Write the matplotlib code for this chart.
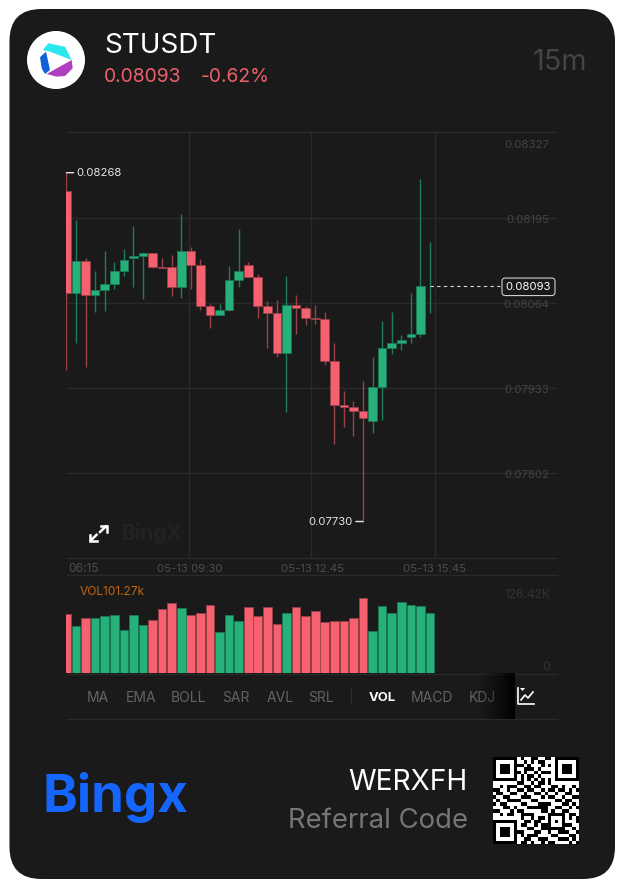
import numpy as np
import matplotlib
matplotlib.use("Agg")
import matplotlib.pyplot as plt
from matplotlib.patches import FancyBboxPatch, Circle, Polygon

plt.rcParams['font.family'] = ['Inter', 'DejaVu Sans']

opens  = [0.08240,0.08082,0.08132,0.08080,0.08087,0.08096,0.08116,0.08136,0.08139,0.08144,
          0.08123,0.08122,0.08092,0.08148,0.08126,0.08062,0.08049,0.08056,0.08102,0.08125,
          0.08107,0.08063,0.08051,0.07990,0.08064,0.08060,0.08044,0.08042,0.07977,0.07910,
          0.07906,0.07900,0.07885,0.07937,0.07998,0.08005,0.08014,0.08019,0.08093]
closes = [0.08082,0.08132,0.08080,0.08087,0.08096,0.08116,0.08134,0.08139,0.08144,0.08123,
          0.08121,0.08092,0.08148,0.08126,0.08062,0.08049,0.08056,0.08102,0.08117,0.08107,
          0.08063,0.08051,0.07990,0.08064,0.08060,0.08044,0.08042,0.07977,0.07910,0.07906,
          0.07900,0.07889,0.07937,0.07998,0.08005,0.08010,0.08019,0.08093,0.08093]
highs  = [0.08268,0.08195,0.08136,0.08117,0.08147,0.08130,0.08150,0.08186,0.08146,0.08144,
          0.08137,0.08141,0.08205,0.08154,0.08135,0.08065,0.08065,0.08124,0.08181,0.08130,
          0.08112,0.08070,0.08072,0.08108,0.08079,0.08063,0.08064,0.08053,0.08006,0.07931,
          0.07916,0.07947,0.07983,0.08039,0.08053,0.08018,0.08082,0.08259,0.08161]
lows   = [0.07964,0.08006,0.07969,0.08053,0.08054,0.08089,0.08109,0.08092,0.08073,0.08121,
          0.08121,0.08078,0.08074,0.08089,0.08056,0.08028,0.08049,0.08055,0.08092,0.08107,
          0.08044,0.07998,0.07984,0.07899,0.08019,0.08033,0.08035,0.07972,0.07850,0.07875,
          0.07862,0.07730,0.07866,0.07887,0.07988,0.07994,0.08006,0.08014,0.08052]
volumes = [100.0,79.8,93.8,93.3,96.1,97.8,73.0,97.8,82.0,90.5,107.9,118.0,110.1,97.8,101.7,
           114.6,69.1,97.8,88.8,111.3,96.6,111.3,83.2,101.1,111.3,96.6,104.5,86.0,88.8,88.2,
           93.8,126.42,71.9,114.1,101.1,120.8,115.2,114.1,101.27]

price_labels = ['0.08327','0.08195','0.08064','0.07933','0.07802']
grid_levels  = [0.083308,0.081986,0.080675,0.079359,0.078048,0.076737]
time_labels  = ['06:15','05-13 09:30','05-13 12:45','05-13 15:45']
time_grid    = [12.77,25.6,38.47]
nav_labels   = ['MA','EMA','BOLL','SAR','AVL','SRL','VOL','MACD','KDJ']
nav_x        = [98,141,189,236,280,321,382,432,482]
qr_rows = ["1111111010011001101111111","1000001001010110001000001","1011101110100010101011101",
"1011101001110100001011101","1011101101001011101011101","1000001010110100001000001",
"1111111010101010101111111","0000000110010110100000000","0010111001101100011010010",
"1100100110110010110110101","0110011001001101001001100","1001100011100010110010011",
"0100111100011000001101100","1011000011000111100011010","0001101000111111001100101",
"1100010110000011010011000","0010110011110000111110110","0000000010010110100010101",
"1111111001101100101010001","1000001011001011100011100","1011101000110011111110010",
"1011101110001100100111001","1011101010111000011000110","1000001001100111000111010",
"1111111011010010110000101"]

W, H = 624, 888
CARD = '#1a1a1a'; RED = '#f6616f'; GREEN = '#26b07a'
RED_D = '#9a4049'; GREEN_D = '#1c7b58'; GRID = '#2a2a2a'
FS = 8.2

fig = plt.figure(figsize=(W/100, H/100), dpi=100, facecolor='white')

def px_axes(x0, y0, x1, y1):
    return fig.add_axes([x0/W, 1-y1/H, (x1-x0)/W, (y1-y0)/H])

bg = px_axes(0, 0, W, H)
bg.set_xlim(0, W); bg.set_ylim(H, 0); bg.axis('off')
bg.add_patch(FancyBboxPatch((9.5, 9), 605.5, 870, boxstyle='round,pad=0,rounding_size=32',
                            fc=CARD, ec='none', lw=0))

# header
bg.add_patch(Circle((56, 60), 29, fc='white', ec='none'))
bg.add_patch(Polygon(np.array([(128,150),(145,130),(195,140),(215,180),(150,155)])/3, fc='#2ce6f0', ec='none'))
bg.add_patch(Polygon(np.array([(120,172),(138,155),(150,210),(135,222),(125,205)])/3, fc='#0f62d6', ec='none'))
bg.add_patch(Polygon(np.array([(140,222),(215,180),(218,205),(195,228),(170,230)])/3, fc='#b03fc0', ec='none'))
bg.text(104, 46, 'STUSDT', color='white', fontsize=20, va='center', ha='left')
bg.text(104, 77.5, '0.08093', color='#ee5f6b', fontsize=13.9, va='center', ha='left')
bg.text(201, 77.5, '-0.62%', color='#ee5f6b', fontsize=13.8, va='center', ha='left')
bg.text(587, 62, '15m', color='#444444', fontsize=20.8, va='center', ha='right')

# candles
idx = np.arange(len(opens))
o, c, h, l = map(np.array, (opens, closes, highs, lows))
up = c >= o
ax = px_axes(65.6, 132, 557.3, 558)
ax.patch.set_alpha(0)
ax.set_xlim(-0.084, 51.3)
ax.set_ylim(grid_levels[-1], grid_levels[0])
ax.hlines(grid_levels, *ax.get_xlim(), color=GRID, lw=1, zorder=1, clip_on=False)
ax.vlines(time_grid, grid_levels[-1], grid_levels[0], color=GRID, lw=1, zorder=1)
ax.vlines(idx[~up], l[~up], h[~up], color=RED_D, lw=1, zorder=2)
ax.vlines(idx[up], l[up], h[up], color=GREEN_D, lw=1, zorder=2)
body = np.abs(c-o)
bot = np.minimum(o, c)
last_mask = idx < len(idx)-1
ax.bar(idx[~up], body[~up], bottom=bot[~up], width=0.9, color=RED, edgecolor=RED_D, lw=0.5, zorder=3)
ax.bar(idx[up & last_mask], body[up & last_mask], bottom=bot[up & last_mask], width=0.9, color=GREEN,
       edgecolor=GREEN_D, lw=0.5, zorder=3)
ax.axis('off')

imax, imin = int(np.argmax(h)), int(np.argmin(l))
ax.annotate(f'{h[imax]:.5f}', xy=(idx[imax], h[imax]), xytext=(10, 0), textcoords='offset pixels',
            color='#e4e4e4', fontsize=FS, va='center', ha='left',
            arrowprops=dict(arrowstyle='-', color='#e4e4e4', lw=1, shrinkA=0, shrinkB=0), annotation_clip=False)
ax.annotate(f'{l[imin]:.5f}', xy=(idx[imin], l[imin]), xytext=(-10, 0), textcoords='offset pixels',
            color='#e4e4e4', fontsize=FS, va='center', ha='right',
            arrowprops=dict(arrowstyle='-', color='#e4e4e4', lw=1, shrinkA=0, shrinkB=0), annotation_clip=False)

# overlay for labels
ov = px_axes(0, 0, W, H)
ov.set_xlim(0, W); ov.set_ylim(H, 0); ov.axis('off'); ov.patch.set_alpha(0)
for lab, y in zip(price_labels, [144.5, 219.5, 304.5, 389.5, 474.5]):
    ov.text(549.5, y, lab, color='#444444', fontsize=FS, ha='right', va='center')
ov.plot([430, 501], [286.2, 286.2], color='#d8d8d8', lw=0.8, dashes=(3, 3))
ov.text(528.5, 286.8, '0.08093', color='white', fontsize=FS, ha='center', va='center',
        bbox=dict(boxstyle='round,pad=0.33,rounding_size=0.3', fc=CARD, ec='#cfcfcf', lw=0.8))
ov.text(68.5, 568.5, time_labels[0], color='#4d4d4d', fontsize=8.6, ha='left', va='center')
for lab, x in zip(time_labels[1:], [189.5, 312.5, 435]):
    ov.text(x, 568.5, lab, color='#4d4d4d', fontsize=FS, ha='center', va='center')
ov.hlines([575, 673.5, 719], 66, 557.7, color=GRID, lw=1)
ov.text(80, 592, 'VOL101.27k', color='#c4640e', fontsize=8.6, ha='left', va='center')
ov.text(550, 595, '126.42K', color='#333333', fontsize=8.6, ha='right', va='center')
ov.text(550, 667, '0', color='#333333', fontsize=8.6, ha='right', va='center')

# expand icon and watermark
ov.plot([100.5, 106.5, 106.5], [525.8, 525.8, 532], color='white', lw=1.8, solid_joinstyle='miter')
ov.plot([106, 100], [526.3, 532], color='white', lw=1.8)
ov.plot([96.5, 90.3, 90.3], [541, 541, 534.8], color='white', lw=1.8, solid_joinstyle='miter')
ov.plot([90.8, 96.5], [540.5, 534.8], color='white', lw=1.8)
ov.text(122, 533, 'BingX', color='#222222', fontsize=15, fontweight='bold', ha='left', va='center')

# volume
vax = px_axes(65.6, 583, 557.3, 673.3)
vax.patch.set_alpha(0)
vax.set_xlim(-0.084, 51.3)
vax.set_ylim(0, 152.2)
vax.bar(idx[~up], np.array(volumes)[~up], width=0.9, color=RED, edgecolor=RED_D, lw=0.5)
vax.bar(idx[up], np.array(volumes)[up], width=0.9, color=GREEN, edgecolor=GREEN_D, lw=0.5)
vax.axis('off')

# nav row
for lab, x in zip(nav_labels, nav_x):
    active = lab == 'VOL'
    ov.text(x, 697.5, lab, color='white' if active else '#636363', fontsize=9.4 if active else 10,
            fontweight='bold' if active else 'normal', ha='center', va='center')
ov.vlines(351, 688, 704, color='#2e2e2e', lw=1)
grad = np.zeros((1, 64, 4)); grad[0, :, 3] = np.linspace(0, 1, 64)**1.3
ov.imshow(grad, extent=(477, 515, 719, 673), aspect='auto', zorder=5)
ov.set_xlim(0, W); ov.set_ylim(H, 0)
ov.plot([518, 518, 534], [688, 704, 704], color='white', lw=1.2, zorder=6)
ov.plot([521, 525, 528, 533], [700, 695, 698, 692], color='white', lw=1.2, zorder=6)
ov.add_patch(Polygon([(520, 688), (525, 688), (522.5, 691)], fc='white', ec='none', zorder=6))

# footer
ov.text(42, 812, 'Bingx', color='#1565ff', fontsize=38, fontweight='bold', ha='left', va='baseline')
ov.text(468, 782.5, 'WERXFH', color='white', fontsize=20.2, ha='right', va='center')
ov.text(468, 820.5, 'Referral Code', color='#767676', fontsize=19.8, ha='right', va='center')
qr = np.array([[int(ch) for ch in r.ljust(25, '0')[:25]] for r in qr_rows])
ov.imshow(1-qr, extent=(493, 579, 844, 758), cmap='gray', vmin=0, vmax=1, aspect='auto',
          interpolation='nearest', zorder=3)
ov.set_xlim(0, W); ov.set_ylim(H, 0)

fig.savefig('out.png', dpi=100, facecolor='white')
